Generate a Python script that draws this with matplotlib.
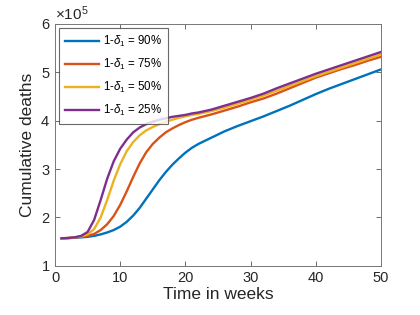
import numpy as np
import matplotlib
matplotlib.use("Agg")
import matplotlib.pyplot as plt
from matplotlib.ticker import ScalarFormatter

plt.rcParams['font.family'] = ['Liberation Sans', 'DejaVu Sans']
plt.rcParams['mathtext.fontset'] = 'custom'
plt.rcParams['mathtext.it'] = 'Liberation Sans:italic'
plt.rcParams['mathtext.rm'] = 'Liberation Sans'

# weeks and cumulative deaths (units of 1e5)
weeks = [1, 2, 3, 4, 5, 6, 7, 8, 9, 10, 11, 12, 13, 14, 15, 16, 17, 18, 19,
         20, 21, 22, 24, 26, 28, 30, 32, 34, 36, 38, 40, 42, 44, 46, 48, 50]
d90 = [1.57, 1.575, 1.58, 1.59, 1.60, 1.62, 1.65, 1.69, 1.74, 1.81, 1.91,
       2.04, 2.20, 2.39, 2.58, 2.77, 2.94, 3.09, 3.22, 3.34, 3.44, 3.52,
       3.65, 3.78, 3.89, 3.99, 4.09, 4.20, 4.31, 4.43, 4.55, 4.66, 4.76,
       4.86, 4.96, 5.06]
d75 = [1.57, 1.575, 1.585, 1.60, 1.62, 1.66, 1.74, 1.86, 2.03, 2.26, 2.54,
       2.84, 3.12, 3.35, 3.52, 3.65, 3.76, 3.84, 3.91, 3.97, 4.02, 4.06,
       4.13, 4.21, 4.29, 4.38, 4.46, 4.56, 4.67, 4.78, 4.89, 4.98, 5.07,
       5.15, 5.24, 5.32]
d50 = [1.57, 1.575, 1.59, 1.61, 1.65, 1.76, 2.00, 2.36, 2.76, 3.10, 3.37,
       3.56, 3.70, 3.80, 3.87, 3.93, 3.98, 4.02, 4.06, 4.09, 4.12, 4.14,
       4.20, 4.27, 4.35, 4.43, 4.52, 4.62, 4.72, 4.82, 4.92, 5.01, 5.10,
       5.19, 5.28, 5.37]
d25 = [1.57, 1.575, 1.59, 1.62, 1.70, 1.95, 2.36, 2.80, 3.16, 3.42, 3.61,
       3.76, 3.86, 3.93, 3.98, 4.02, 4.05, 4.08, 4.10, 4.12, 4.15, 4.17,
       4.23, 4.31, 4.39, 4.47, 4.56, 4.67, 4.77, 4.87, 4.97, 5.06, 5.15,
       5.24, 5.33, 5.42]
labels = ['90%', '75%', '50%', '25%']
colors = ['#0072BD', '#D95319', '#EDB120', '#7E2F8E']

fig = plt.figure(figsize=(4.2, 3.15), dpi=100)
ax = fig.add_axes([0.131, 0.156, 0.776, 0.768])

for ys, lab, c in zip([d90, d75, d50, d25], labels, colors):
    ax.plot(weeks, np.array(ys) * 1e5, color=c, lw=1.7,
            label=r'1-$\delta_1$ = ' + lab)

ax.set_xlim(0, 50)
ax.set_ylim(1e5, 6e5)
ax.set_xticks([0, 10, 20, 30, 40, 50])
ax.set_yticks([1e5, 2e5, 3e5, 4e5, 5e5, 6e5])
fmt = ScalarFormatter(useMathText=True)
fmt.set_powerlimits((0, 0))
ax.yaxis.set_major_formatter(fmt)
ax.yaxis.get_offset_text().set_fontsize(11)
ax.yaxis.get_offset_text().set_color('#262626')

ax.tick_params(direction='in', top=True, right=True, length=3.5,
               width=0.6, colors='#555555', labelcolor='#262626', labelsize=10.5)
for s in ax.spines.values():
    s.set_color('#777777')
    s.set_linewidth(0.7)

ax.set_xlabel('Time in weeks', fontsize=12.5, color='#262626', labelpad=2)
ax.set_ylabel('Cumulative deaths', fontsize=12.5, color='#262626', labelpad=4)

leg = ax.legend(loc='upper left', fontsize=8.3, frameon=True, fancybox=False,
                handlelength=3.0, borderpad=0.5, labelspacing=0.7,
                handletextpad=0.3, borderaxespad=0.35)
leg.get_frame().set_edgecolor('#444444')
leg.get_frame().set_linewidth(0.8)

fig.savefig('out.png', dpi=100)
